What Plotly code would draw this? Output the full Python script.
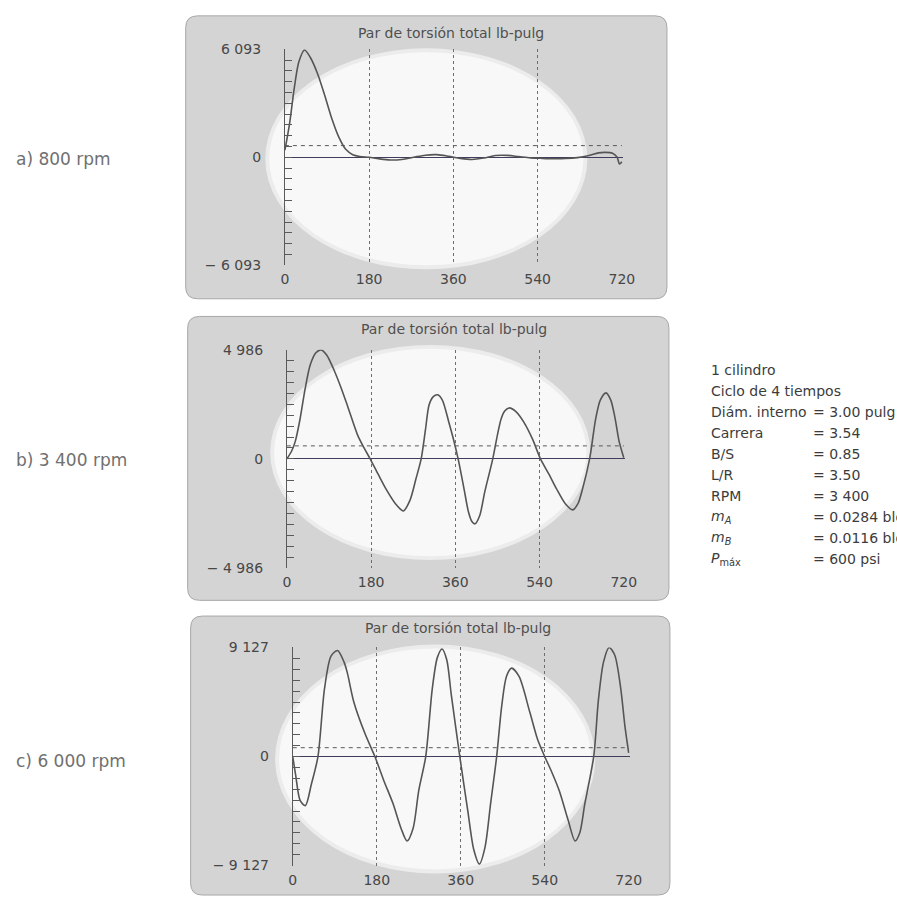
import plotly.graph_objects as go

W, H = 897, 905

# ---------------------------------------------------------------- data
TITLE = "Par de torsión total lb-pulg"
panel_labels = ["a) 800 rpm", "b) 3 400 rpm", "c) 6 000 rpm"]
y_limits = [6093, 4986, 9127]
y_limit_text = ["6 093", "4 986", "9 127"]
x_ticks = [0, 180, 360, 540, 720]
mean_torque = [660, 595, 740]

angle_800 = [0, 10, 20, 30, 42, 55, 70, 85, 100, 115, 130, 145, 160, 180, 200,
             225, 250, 275, 300, 325, 350, 375, 400, 425, 450, 475, 500, 525,
             550, 575, 600, 625, 650, 670, 685, 700, 710, 715, 720]
torque_800 = [400, 1900, 3900, 5400, 6050, 5600, 4700, 3500, 2200, 1150, 450,
              150, 50, 0, -80, -150, -120, 0, 120, 150, 60, -60, -120, -40,
              100, 110, 40, -30, -60, -80, -70, -20, 100, 250, 280, 230, 0,
              -380, -250]

angle_3400 = [0, 10, 18, 28, 39, 50, 62, 73, 85, 100, 115, 130, 151, 165, 178,
              195, 213, 232, 249, 263, 276, 287, 296, 304, 313, 322, 332, 346,
              356, 366, 378, 388, 395, 402, 412, 423, 440, 450, 458, 466, 475,
              490, 506, 525, 542, 560, 576, 595, 611, 622, 632, 647, 660, 670,
              682, 692, 701, 710, 720]
torque_3400 = [0, 350, 800, 1800, 3200, 4300, 4850, 4986, 4750, 4100, 3300,
               2400, 1100, 500, 0, -700, -1420, -2050, -2380, -1900, -900, 0,
               1300, 2480, 2850, 2930, 2700, 1690, 900, 0, -1300, -2420, -2850,
               -2970, -2600, -1500, 0, 1100, 1840, 2200, 2330, 2150, 1690, 900,
               0, -700, -1360, -2050, -2330, -2050, -1360, 0, 1840, 2700, 3020,
               2700, 1900, 800, 50]

angle_6000 = [0, 6, 16, 27, 40, 54, 68, 82, 96, 110, 117, 131, 155, 176, 195,
              215, 232, 245, 258, 270, 285, 299, 310, 320, 330, 340, 358, 375,
              388, 400, 412, 424, 437, 448, 458, 469, 485, 508, 525, 540, 555,
              571, 590, 605, 615, 626, 645, 655, 666, 678, 690, 703, 712, 720]
torque_6000 = [0, -1500, -3700, -4110, -2300, 0, 5670, 8400, 8880, 7900, 7000,
               4550, 1900, 0, -2000, -3950, -6000, -7070, -6000, -2850, 0,
               5670, 8300, 9000, 8100, 5100, 0, -4500, -7800, -9000, -7600,
               -3950, 0, 4280, 6700, 7400, 6700, 3720, 1400, 0, -1300, -2850,
               -5300, -7070, -6400, -3950, 0, 4700, 7900, 9127, 8500, 5670,
               2500, 300]

spec_labels = ["1 cilindro", "Ciclo de 4 tiempos", "Diám. interno", "Carrera",
               "B/S", "L/R", "RPM", "<i>m</i><sub><i>A</i></sub>",
               "<i>m</i><sub><i>B</i></sub>", "<i>P</i><sub>máx</sub>"]
spec_values = ["", "", "= 3.00 pulg", "= 3.54", "= 0.85", "= 3.50", "= 3 400",
               "= 0.0284 blob", "= 0.0116 blob", "= 600 psi"]

angles = [angle_800, angle_3400, angle_6000]
torques = [torque_800, torque_3400, torque_6000]

# ---------------------------------------------------------------- layout geometry (pixels)
# plot area: x of 0° and 720°, y of top and bottom
plot_px = [(286, 630, 42, 262), (288, 632, 348, 570), (294, 637, 651, 873)]
# rounded card behind each chart: left, right, top, bottom
card_px = [(185, 675, 8, 296), (187, 677, 314, 603), (190, 678, 619, 903)]
# light oval in the middle of each card
oval_px = [(270, 590, 45, 262), (275, 593, 347, 558), (280, 598, 652, 877)]
title_xy_px = [(455, 25), (458, 327), (462, 631)]
label_y_px = [154, 460, 767]

FONT = "DejaVu Sans"
INK = "#474747"


def fx(px):
    return px / W


def fy(py):
    return 1 - py / H


def rounded_rect(l, r, t, b, rad=12):
    xl, xr = fx(l), fx(r)
    yt, yb = fy(t), fy(b)
    dx, dy = rad / W, rad / H
    return (f"M {xl + dx},{yt} L {xr - dx},{yt} Q {xr},{yt} {xr},{yt - dy} "
            f"L {xr},{yb + dy} Q {xr},{yb} {xr - dx},{yb} "
            f"L {xl + dx},{yb} Q {xl},{yb} {xl},{yb + dy} "
            f"L {xl},{yt - dy} Q {xl},{yt} {xl + dx},{yt} Z")


fig = go.Figure()
shapes = []
annotations = []
layout_axes = {}

for i in range(3):
    n = "" if i == 0 else str(i + 1)
    xa, ya = f"x{n}", f"y{n}"
    lim = y_limits[i]

    # torque curve
    fig.add_trace(go.Scatter(
        x=angles[i], y=torques[i], xaxis=xa, yaxis=ya, mode="lines",
        line=dict(color="#555555", width=1.6, shape="spline", smoothing=0.8),
        hoverinfo="skip", showlegend=False))
    # mean torque (dashed)
    fig.add_trace(go.Scatter(
        x=[x_ticks[0], x_ticks[-1]], y=[mean_torque[i]] * 2, xaxis=xa, yaxis=ya,
        mode="lines", line=dict(color="#5a5a5a", width=1, dash="4px,4px"),
        hoverinfo="skip", showlegend=False))

    x0, x1, yt, yb = plot_px[i]

    layout_axes[f"xaxis{n}"] = dict(
        domain=[fx(x0), fx(x1)], anchor=ya, range=[0, 722],
        tickvals=x_ticks, ticktext=[str(v) for v in x_ticks],
        showgrid=True, gridcolor="#6e6e6e", gridwidth=1, griddash="dot",
        showline=False, zeroline=False, ticks="", ticklabelstandoff=4,
        tickfont=dict(family=FONT, size=14, color=INK), fixedrange=True)
    layout_axes[f"yaxis{n}"] = dict(
        domain=[fy(yb), fy(yt)], anchor=xa, range=[-lim, lim],
        tickvals=[-lim, 0, lim],
        ticktext=["− " + y_limit_text[i], "0", y_limit_text[i]],
        ticks="inside", ticklen=7, tickcolor="#5a5a5a", tickwidth=1,
        minor=dict(tick0=0, dtick=lim / 10, ticks="inside", ticklen=7,
                   tickcolor="#5a5a5a", tickwidth=1, showgrid=False),
        showline=True, linecolor="#5a5a5a", linewidth=1, showgrid=False,
        zeroline=True, zerolinecolor="#3e3e5c", zerolinewidth=1,
        ticklabelstandoff=20,
        tickfont=dict(family=FONT, size=14, color=INK), fixedrange=True)

    l, r, t, b = card_px[i]
    shapes.append(dict(type="path", path=rounded_rect(l, r, t, b),
                       xref="paper", yref="paper", layer="below",
                       fillcolor="#d4d4d4", line=dict(color="#a8a8a8", width=1)))
    ol, orr, ot, ob = oval_px[i]
    shapes.append(dict(type="circle", xref="paper", yref="paper", layer="below",
                       x0=fx(ol - 4), x1=fx(orr + 4), y0=fy(ob + 4), y1=fy(ot - 4),
                       fillcolor="#ececec", line=dict(width=0)))
    shapes.append(dict(type="circle", xref="paper", yref="paper", layer="below",
                       x0=fx(ol), x1=fx(orr), y0=fy(ob), y1=fy(ot),
                       fillcolor="#f8f8f8", line=dict(width=0)))

    tx, ty = title_xy_px[i]
    annotations.append(dict(
        text=TITLE, x=fx(tx), y=fy(ty), xref="paper",
        yref="paper", showarrow=False, xanchor="center", yanchor="middle",
        font=dict(family=FONT, size=14, color="#505050")))
    annotations.append(dict(
        text=panel_labels[i], x=fx(10), y=fy(label_y_px[i]), xref="paper",
        yref="paper", showarrow=False, xanchor="left", yanchor="middle",
        font=dict(family=FONT, size=17, color="#707070")))

# engine data listing
for k, (lab, val) in enumerate(zip(spec_labels, spec_values)):
    yy = 369 + k * 21.3
    annotations.append(dict(
        text=lab, x=fx(718), y=fy(yy), xref="paper", yref="paper",
        showarrow=False, xanchor="left", yanchor="middle",
        font=dict(family=FONT, size=14, color="#3c3c3c")))
    if val:
        annotations.append(dict(
            text=val, x=fx(822), y=fy(yy), xref="paper", yref="paper",
            showarrow=False, xanchor="left", yanchor="middle",
            font=dict(family=FONT, size=14, color="#3c3c3c")))

fig.update_layout(
    width=W, height=H, margin=dict(l=0, r=0, t=0, b=0),
    paper_bgcolor="white", plot_bgcolor="rgba(0,0,0,0)",
    shapes=shapes, annotations=annotations, showlegend=False,
    **layout_axes)

fig.write_html("out.html", config={"displayModeBar": False})
